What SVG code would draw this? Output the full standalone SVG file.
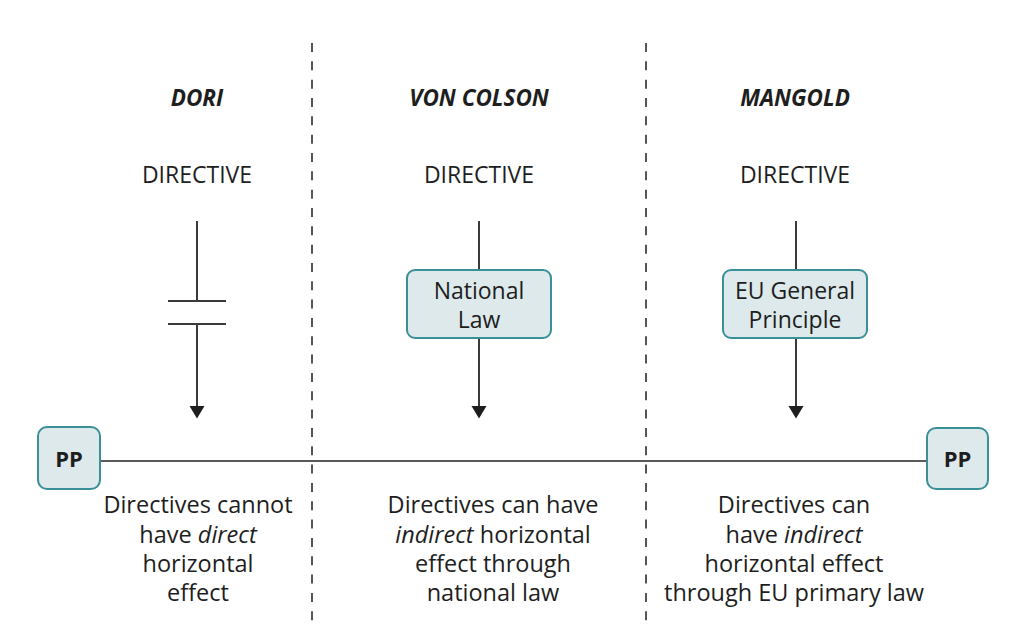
<svg xmlns="http://www.w3.org/2000/svg" width="1024" height="644" viewBox="0 0 1024 644">
  <style>
    text { font-family: "Open Sans", "Noto Sans", "DejaVu Sans", sans-serif; fill: #1e1e1e; text-anchor: middle; }
    .hdr { font-size: 22.5px; font-weight: 700; font-style: italic; }
    .dir { font-size: 23px; }
    .body { font-size: 23.5px; }
    .box { fill: #dde9ea; stroke: #3a8f99; stroke-width: 2; }
    .boxt { font-size: 23px; }
    .pp { font-size: 22px; font-weight: 700; }
    .sep { stroke: #555; stroke-width: 2; stroke-dasharray: 9 9.33; fill: none; }
    .ln { stroke: #3a3a3a; stroke-width: 2; fill: none; }
    .hz { stroke: #5a5a5a; stroke-width: 2; fill: none; }
    .ah { fill: #1e1e1e; }
  </style>
  <rect width="1024" height="644" fill="#ffffff"/>

  <g id="separators">
    <line class="sep" x1="312" y1="43" x2="312" y2="624"/>
    <line class="sep" x1="646" y1="43" x2="646" y2="624"/>
  </g>

  <g id="connectors">
    <line class="ln" x1="197" y1="221" x2="197" y2="301"/>
    <line class="ln" x1="168" y1="301" x2="226" y2="301"/>
    <line class="ln" x1="168" y1="324" x2="226" y2="324"/>
    <line class="ln" x1="197" y1="324" x2="197" y2="406"/>
    <path class="ah" d="M189.5,406 L204.5,406 L197,418.5 Z"/>
    <line class="ln" x1="479" y1="221" x2="479" y2="270"/>
    <line class="ln" x1="479" y1="338" x2="479" y2="406"/>
    <path class="ah" d="M471.5,406 L486.5,406 L479,418.5 Z"/>
    <line class="ln" x1="796" y1="221" x2="796" y2="270"/>
    <line class="ln" x1="796" y1="338" x2="796" y2="406"/>
    <path class="ah" d="M788.5,406 L803.5,406 L796,418.5 Z"/>
    <line class="hz" x1="100" y1="461" x2="928" y2="461"/>
  </g>

  <g id="dori">
    <text class="hdr" x="197" y="106">DORI</text>
    <text class="dir" x="197" y="183">DIRECTIVE</text>
    <text class="body" x="198" y="513">Directives cannot</text>
    <text class="body" x="198" y="543">have <tspan font-style="italic">direct</tspan></text>
    <text class="body" x="198" y="572">horizontal</text>
    <text class="body" x="198" y="601">effect</text>
  </g>

  <g id="voncolson">
    <text class="hdr" x="479" y="106">VON COLSON</text>
    <text class="dir" x="479" y="183">DIRECTIVE</text>
    <text class="body" x="493" y="513">Directives can have</text>
    <text class="body" x="493" y="543"><tspan font-style="italic">indirect</tspan> horizontal</text>
    <text class="body" x="493" y="572">effect through</text>
    <text class="body" x="493" y="601">national law</text>
  </g>

  <g id="national-law">
    <rect class="box" x="407" y="270" width="144" height="68" rx="8"/>
    <text class="boxt" x="479" y="299">National</text>
    <text class="boxt" x="479" y="328">Law</text>
  </g>

  <g id="mangold">
    <text class="hdr" x="795" y="106">MANGOLD</text>
    <text class="dir" x="795" y="183">DIRECTIVE</text>
    <text class="body" x="794" y="513">Directives can</text>
    <text class="body" x="794" y="543">have <tspan font-style="italic">indirect</tspan></text>
    <text class="body" x="794" y="572">horizontal effect</text>
    <text class="body" x="794" y="601">through EU primary law</text>
  </g>

  <g id="eu-general-principle">
    <rect class="box" x="723" y="270" width="144" height="68" rx="8"/>
    <text class="boxt" x="795" y="299">EU General</text>
    <text class="boxt" x="795" y="328">Principle</text>
  </g>

  <g id="pp-left">
    <rect class="box" x="38" y="427" width="62" height="62" rx="9"/>
    <text class="pp" x="69" y="467">PP</text>
  </g>

  <g id="pp-right">
    <rect class="box" x="927" y="428" width="61" height="61" rx="9"/>
    <text class="pp" x="957.5" y="467">PP</text>
  </g>
</svg>
